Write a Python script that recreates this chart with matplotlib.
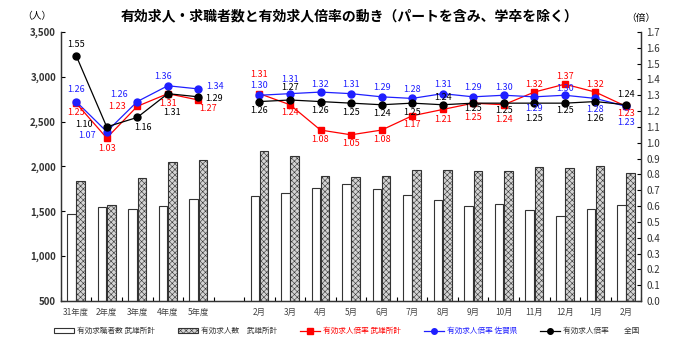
import numpy as np
import matplotlib
matplotlib.use("Agg")
import matplotlib.pyplot as plt
from matplotlib.patches import Patch
from matplotlib.lines import Line2D

plt.rcParams['font.family'] = ['Noto Sans CJK JP', 'DejaVu Sans']
plt.rcParams['hatch.linewidth'] = 0.4

nan = np.nan

# categories (one blank slot between the fiscal years and the months)
categories = ["31年度", "2年度", "3年度", "4年度", "5年度", "",
              "2月", "3月", "4月", "5月", "6月", "7月", "8月", "9月",
              "10月", "11月", "12月", "1月", "2月"]

# 有効求職者数 / 有効求人数 (武雄所計), persons
seekers = [1467, 1551, 1522, 1559, 1634, nan,
           1666, 1703, 1758, 1803, 1744, 1677, 1621, 1562,
           1577, 1510, 1443, 1521, 1566]
openings = [1833, 1567, 1870, 2045, 2070, nan,
            2175, 2115, 1896, 1881, 1892, 1955, 1963, 1952,
            1948, 1989, 1985, 2003, 1930]

# 有効求人倍率
ratio_takeo = [1.25, 1.03, 1.23, 1.31, 1.27, nan,
               1.31, 1.24, 1.08, 1.05, 1.08, 1.17, 1.21, 1.25,
               1.24, 1.32, 1.37, 1.32, 1.23]
ratio_saga = [1.26, 1.07, 1.26, 1.36, 1.34, nan,
              1.30, 1.31, 1.32, 1.31, 1.29, 1.28, 1.31, 1.29,
              1.30, 1.29, 1.30, 1.28, 1.23]
ratio_japan = [1.55, 1.10, 1.16, 1.31, 1.29, nan,
               1.26, 1.27, 1.26, 1.25, 1.24, 1.25, 1.24, 1.25,
               1.25, 1.25, 1.25, 1.26, 1.24]

# label offsets in pixels (dx, dy)
off_takeo = [(0, -9), (0, -11), (-20, 0), (0, -10), (10, -9), None,
             (0, 19), (0, -8), (0, -9), (0, -9), (0, -9), (0, -9), (0, -10), (0, -14),
             (0, -15), (0, 8), (0, 8), (0, 8), (0, -7)]
off_saga = [(0, 12), (-20, -4), (-18, 7), (-5, 9), (14, 2), None,
            (0, 10), (0, 14), (0, 8), (0, 9), (0, 9), (0, 9), (0, 9), (0, 9),
            (0, 8), (0, -12), (0, 7), (0, -11), (0, -16)]
off_japan = [(0, 11), (-23, 2), (6, -10), (4, -19), (13, -2), None,
             (0, -9), (0, 12), (0, -9), (0, -9), (0, -9), (0, -9), (0, 7), (0, -5),
             (0, -7), (0, -15), (0, -7), (0, -17), (0, 10)]

x = np.arange(len(categories))

fig = plt.figure(figsize=(7.0, 3.51), dpi=100)
ax = fig.add_axes([0.087, 0.1425, 0.829, 0.7665])
ax2 = ax.twinx()

bw = 0.28
ax.bar(x - 0.15, seekers, width=bw, bottom=0, facecolor="white",
       edgecolor="#333333", linewidth=0.8)
ax.bar(x + 0.15, openings, width=bw, bottom=0, facecolor="#d4d4d4",
       edgecolor="#333333", linewidth=0.8, hatch="xxxxxx")
ax.set_ylim(500, 3500)
ax.set_xlim(-0.5, len(categories) - 0.5)
ax.set_yticks(np.arange(500, 3501, 500))
ax.set_yticklabels([f"{v:,}" for v in range(500, 3501, 500)],
                   fontsize=7, fontweight="bold", color="#333333")
ax.set_xticks(x)
ax.set_xticklabels(categories, fontsize=6, color="#444444")
ax.set_xticks(np.arange(-0.5, len(categories), 1.0), minor=True)
ax.tick_params(axis="x", which="major", length=0, pad=5)
ax.tick_params(axis="x", which="minor", direction="in", length=3, width=0.8)
ax.tick_params(axis="y", direction="in", length=3, width=0.8)

series = [
    (ratio_takeo, off_takeo, "#ff0000", "s"),
    (ratio_saga, off_saga, "#1f1fff", "o"),
    (ratio_japan, off_japan, "black", "o"),
]
for vals, offs, col, mk in series:
    ax2.plot(x, vals, color=col, marker=mk, markersize=5, linewidth=0.9)
    for xi, v, o in zip(x, vals, offs):
        if o is None or np.isnan(v):
            continue
        ha = "center"
        if o[0] >= 10 and abs(o[1]) <= 2:
            ha = "left"
            o = (o[0] - 6, o[1])
        ax2.annotate(f"{v:.2f}", (xi, v), xytext=o, textcoords="offset pixels",
                     ha=ha, va="center", fontsize=6.5, color=col)

ax2.set_ylim(0.0, 1.7)
ax2.set_yticks(np.arange(0, 1.71, 0.1))
ax2.set_yticklabels([f"{v:.1f}" for v in np.arange(0, 1.71, 0.1)],
                    fontsize=7, color="#333333")
ax2.tick_params(axis="y", direction="in", length=3, width=0.8)

for a in (ax, ax2):
    a.spines["top"].set_visible(False)
    for s in ("left", "right", "bottom"):
        a.spines[s].set_color("#333333")
        a.spines[s].set_linewidth(0.9)

fig.text(0.5, 0.952, "有効求人・求職者数と有効求人倍率の動き（パートを含み、学卒を除く）",
         ha="center", va="center", fontsize=10, fontweight="bold")
fig.text(0.052, 0.955, "（人）", ha="center", va="center", fontsize=7)
fig.text(0.915, 0.95, "（倍）", ha="center", va="center", fontsize=7)

handles = [
    Patch(facecolor="white", edgecolor="#333333", linewidth=0.8),
    Patch(facecolor="#d4d4d4", edgecolor="#333333", linewidth=0.8, hatch="xxxxxx"),
    Line2D([], [], color="#ff0000", marker="s", markersize=4, linewidth=0.9),
    Line2D([], [], color="#1f1fff", marker="o", markersize=4, linewidth=0.9),
    Line2D([], [], color="black", marker="o", markersize=4, linewidth=0.9),
]
labels = ["有効求職者数 武雄所計", "有効求人数　武雄所計", "有効求人倍率 武雄所計",
          "有効求人倍率 佐賀県", "有効求人倍率　　全国"]
fig.legend(handles, labels, loc="lower center", bbox_to_anchor=(0.495, 0.025),
           ncol=5, frameon=False, fontsize=5.5, handlelength=2.6, handleheight=0.5,
           columnspacing=3.0, handletextpad=0.4,
           labelcolor=["#333333", "#333333", "#ff0000", "#1f1fff", "#333333"])

fig.savefig("out.png", dpi=100)
